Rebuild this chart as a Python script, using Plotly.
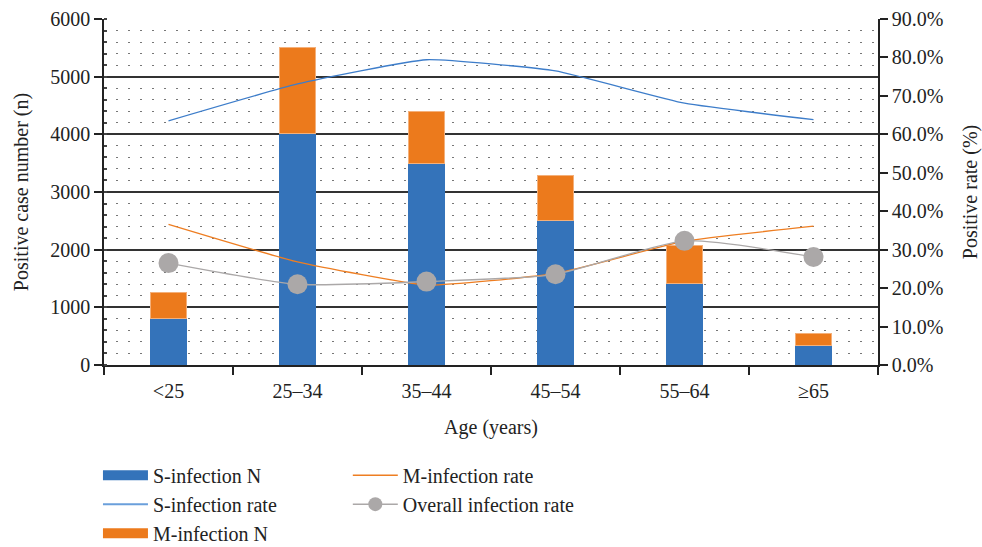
import plotly.graph_objects as go

# Age groups and positive case counts
age_groups = ["<25", "25\u201334", "35\u201344", "45\u201354", "55\u201364", "\u226565"]
s_infection_n = [810, 4020, 3500, 2510, 1410, 340]
m_infection_n = [450, 1490, 900, 770, 660, 200]

# Positive rates (fraction)
s_infection_rate = [0.635, 0.731, 0.794, 0.765, 0.681, 0.638]
m_infection_rate = [0.366, 0.268, 0.208, 0.238, 0.322, 0.361]
overall_rate = [0.265, 0.210, 0.217, 0.236, 0.323, 0.281]

BLUE = "#3473BA"
ORANGE = "#EC7A1C"
GREY = "#ABA8A8"
FONT = "Liberation Serif"

fig = go.Figure()

# Stacked count bars (legend entries drawn as wide swatches below)
fig.add_trace(go.Bar(
    x=age_groups, y=s_infection_n, name="S-infection N",
    marker=dict(color=BLUE, line=dict(width=0)), showlegend=False,
))
fig.add_trace(go.Bar(
    x=age_groups, y=m_infection_n, name="M-infection N",
    marker=dict(color=ORANGE, line=dict(width=1, color="#F4B07A")), showlegend=False,
))

# Rate lines on the secondary axis
fig.add_trace(go.Scatter(
    x=age_groups, y=s_infection_rate, name="S-infection rate", yaxis="y2",
    mode="lines", line=dict(color="#3D7DCA", width=1.3, shape="spline", smoothing=0.4),
    showlegend=False,
))
fig.add_trace(go.Scatter(
    x=age_groups, y=m_infection_rate, name="M-infection rate", yaxis="y2",
    mode="lines", line=dict(color="#EE7E22", width=1.3, shape="spline", smoothing=0.4),
    showlegend=False,
))
fig.add_trace(go.Scatter(
    x=age_groups, y=overall_rate, name="Overall infection rate", yaxis="y2",
    mode="lines+markers", line=dict(color=GREY, width=1.3, shape="spline", smoothing=0.6),
    marker=dict(color=GREY, size=20), showlegend=False,
))

# Legend swatches
legend_items = [
    ("S-infection N", "legend", dict(mode="lines", line=dict(color=BLUE, width=14))),
    ("S-infection rate", "legend", dict(mode="lines", line=dict(color="#6A9FDB", width=2))),
    ("M-infection N", "legend", dict(mode="lines", line=dict(color=ORANGE, width=14))),
    ("M-infection rate", "legend2", dict(mode="lines", line=dict(color="#EE7E22", width=1.5))),
    ("Overall infection rate", "legend2",
     dict(mode="lines+markers", line=dict(color=GREY, width=1.5), marker=dict(color=GREY, size=14))),
]
for i, (name, leg, style) in enumerate(legend_items):
    fig.add_trace(go.Scatter(
        x=[None], y=[None], name=name, legend=leg, legendgroup=f"g{i}",
        legendrank=i + 1, yaxis="y2", **style,
    ))

legend_common = dict(
    font=dict(family=FONT, size=20, color="#222"),
    bgcolor="rgba(0,0,0,0)", traceorder="grouped", tracegroupgap=0,
    itemwidth=45, yanchor="top", xanchor="left", yref="container",
)

fig.update_layout(
    width=982, height=547,
    margin=dict(l=104, r=104, t=19, b=182, autoexpand=False),
    paper_bgcolor="white", plot_bgcolor="white",
    barmode="stack", bargap=0.72,
    font=dict(family=FONT, size=20, color="#222"),
    legend=dict(x=-0.0078, y=0.167, **legend_common),
    legend2=dict(x=0.315, y=0.167, **legend_common),
    xaxis=dict(
        type="category", showline=True, linecolor="#222", linewidth=1.5,
        ticks="outside", tickson="boundaries", ticklen=8, tickcolor="#222",
        tickwidth=1.5, showgrid=False, automargin=False, ticklabelstandoff=7,
        title=dict(text="Age (years)", font=dict(family=FONT, size=20), standoff=19),
    ),
    yaxis=dict(
        range=[0, 6000], dtick=1000, showline=True, linecolor="#222", linewidth=1.5,
        ticks="outside", ticklen=8, tickcolor="#222", tickwidth=1.5, automargin=False,
        showgrid=True, gridcolor="#333", gridwidth=1.5, zeroline=False,
        minor=dict(dtick=200, showgrid=True, griddash="1.5px,10.5px",
                   gridcolor="#777", gridwidth=1.3,
                   ticks="inside", ticklen=3, tickcolor="#444"),
        title=dict(text="Positive case number (n)", font=dict(family=FONT, size=20), standoff=16),
    ),
    yaxis2=dict(
        range=[0, 0.9], dtick=0.1, tickformat=".1%", overlaying="y", side="right",
        showline=True, linecolor="#222", linewidth=1.5, automargin=False,
        ticks="outside", ticklen=8, tickcolor="#222", tickwidth=1.5,
        showgrid=False, zeroline=False,
        title=dict(text="Positive rate (%)", font=dict(family=FONT, size=20), standoff=21),
    ),
)

fig.write_html("out.html")
